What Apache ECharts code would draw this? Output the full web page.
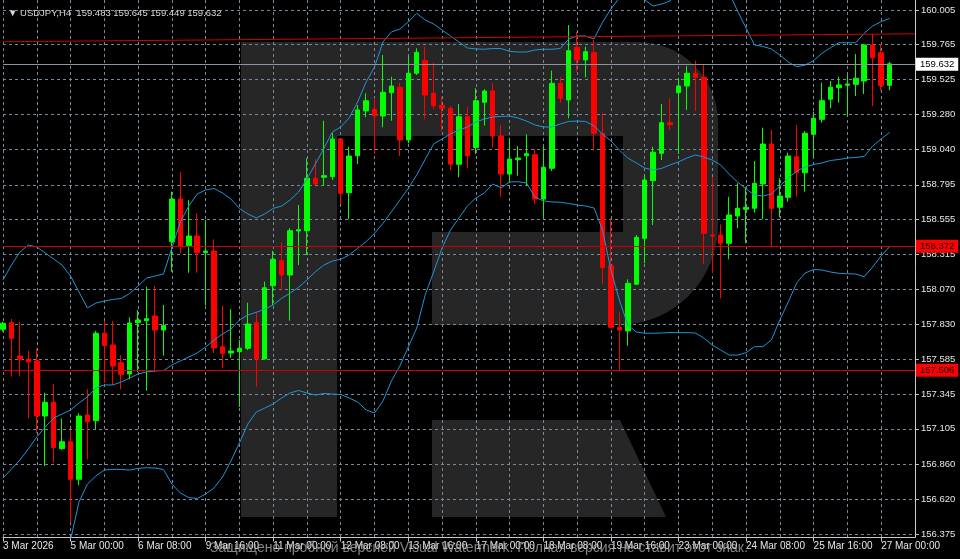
<!DOCTYPE html>
<html>
<head>
<meta charset="utf-8">
<script src="https://cdn.jsdelivr.net/npm/echarts@6/dist/echarts.min.js"></script>
<style>
html,body{margin:0;padding:0;background:#000;}
#c{width:960px;height:559px;}
</style>
</head>
<body>
<div id="c"></div>
<script>
// ---- data (USDJPY, H4) ----
const tradingDays = ['3 Mar','4 Mar','5 Mar','6 Mar','9 Mar','10 Mar','11 Mar','12 Mar','13 Mar',
  '16 Mar','17 Mar','18 Mar','19 Mar','20 Mar','23 Mar','24 Mar','25 Mar','26 Mar','27 Mar'];
const barHours = ['00:00','04:00','08:00','12:00','16:00','20:00'];

const tickLabels = ['3 Mar 2026','5 Mar 00:00','6 Mar 08:00','9 Mar 16:00','11 Mar 00:00','12 Mar 08:00',
  '13 Mar 16:00','17 Mar 00:00','18 Mar 08:00','19 Mar 16:00','23 Mar 00:00','24 Mar 08:00','25 Mar 16:00','27 Mar 00:00'];

const priceTicks = [156.375,156.620,156.860,157.105,157.345,157.585,157.830,158.070,158.315,
  158.555,158.795,159.040,159.280,159.525,159.765,160.005];

const opens = [
157.794,157.840,157.609,157.587,157.575,157.194,157.289,156.968,157.016,156.756,
157.201,157.162,157.767,157.686,157.563,157.485,157.840,157.854,157.886,157.789,
158.401,158.696,158.373,158.440,158.325,158.336,157.674,157.630,157.639,157.663,
157.840,157.589,158.096,158.269,158.170,158.475,158.477,158.840,158.847,158.851,
159.112,158.740,158.996,159.306,159.317,159.271,159.432,159.470,159.105,159.567,
159.654,159.428,159.345,159.324,158.937,159.266,159.052,159.366,159.444,159.133,
158.869,158.968,158.996,159.003,158.696,158.909,159.497,159.382,159.747,159.659,
159.709,159.151,158.235,157.808,157.783,158.106,158.424,158.823,159.013,159.225,
159.432,159.479,159.567,159.539,158.447,158.447,158.390,158.579,158.625,158.632,
158.800,159.077,158.639,158.708,158.989,158.878,159.144,159.248,159.387,159.467,
159.484,159.490,159.513,159.763,159.709,159.483];

const closes = [
157.836,157.732,157.587,157.568,157.194,157.289,156.976,157.016,156.756,157.194,
157.155,157.767,157.681,157.540,157.483,157.838,157.859,157.868,157.789,157.821,
158.696,158.371,158.440,158.325,158.336,157.665,157.628,157.644,157.663,157.831,
157.589,158.082,158.279,158.170,158.477,158.484,158.840,158.800,158.858,159.112,
158.736,158.994,159.313,159.377,159.271,159.435,159.479,159.105,159.567,159.712,
159.416,159.342,159.324,158.937,159.266,158.994,159.377,159.444,159.133,158.869,
158.973,158.980,159.010,158.696,158.916,159.497,159.394,159.723,159.659,159.716,
159.151,158.221,157.808,157.789,158.113,158.431,158.828,159.020,159.225,159.211,
159.479,159.567,159.539,158.459,158.440,158.390,158.586,158.632,158.639,158.805,
159.077,158.632,158.717,158.994,158.878,159.151,159.255,159.377,159.470,159.486,
159.493,159.532,159.763,159.675,159.483,159.632];

const lows = [
157.778,157.466,157.468,157.178,157.074,156.848,156.871,156.959,156.455,156.716,
156.894,157.104,157.423,157.409,157.379,157.448,157.499,157.369,157.499,157.612,
158.193,158.320,158.186,158.186,157.959,157.630,157.524,157.596,157.256,157.651,
157.397,157.585,157.963,158.062,157.854,158.239,158.309,158.797,158.786,158.828,
158.662,158.556,158.939,159.262,159.008,159.193,159.238,158.994,159.082,159.555,
159.248,159.317,159.167,158.897,158.847,158.909,159.008,159.204,159.052,158.712,
158.809,158.858,158.786,158.662,158.563,158.890,159.363,159.255,159.578,159.539,
159.031,158.108,157.801,157.506,157.681,158.104,158.251,158.516,158.966,159.174,
159.008,159.313,159.306,158.246,158.184,158.009,158.279,158.494,158.390,158.602,
158.556,158.372,158.570,158.678,158.712,158.747,158.989,159.225,159.324,159.363,
159.271,159.409,159.423,159.340,159.446,159.449];

const highs = [
157.847,157.866,157.845,157.646,157.661,157.355,157.416,157.177,157.097,157.213,
157.379,157.783,157.852,157.852,157.616,157.877,157.928,158.089,158.094,157.963,
158.747,158.883,158.689,158.599,158.551,158.417,157.956,157.935,157.720,157.978,
157.916,158.124,158.338,158.397,158.494,158.655,158.978,158.971,159.238,159.155,
159.115,159.058,159.347,159.428,159.394,159.693,159.543,159.502,159.686,159.740,
159.751,159.640,159.405,159.340,159.354,159.335,159.463,159.456,159.497,159.209,
159.117,159.063,159.144,159.040,159.063,159.585,159.543,159.901,159.855,159.751,
159.797,159.294,158.563,157.916,158.140,158.447,158.867,159.058,159.354,159.394,
159.534,159.617,159.655,159.631,158.847,158.520,158.712,158.805,158.777,158.959,
159.190,159.174,158.840,159.017,159.209,159.167,159.301,159.502,159.513,159.543,
159.555,159.700,159.767,159.839,159.769,159.645];

const upperBand = [
158.136,158.239,158.329,158.378,158.364,158.323,158.281,158.239,158.163,158.053,
157.942,157.976,157.990,158.001,158.008,158.042,158.094,158.149,158.163,158.177,
158.357,158.537,158.648,158.731,158.759,158.769,158.738,158.696,158.631,158.593,
158.565,158.593,158.631,158.648,158.689,158.745,158.835,158.939,159.046,159.160,
159.195,159.257,159.368,159.506,159.610,159.783,159.853,159.873,159.922,159.981,
159.936,159.908,159.866,159.825,159.783,159.742,159.735,159.733,159.738,159.738,
159.718,159.714,159.714,159.728,159.733,159.733,159.738,159.804,159.825,159.825,
159.804,159.920,160.012,160.090,160.130,160.120,160.074,160.033,160.046,160.067,
160.130,160.190,160.230,160.247,160.247,160.212,160.122,159.998,159.880,159.763,
159.752,159.735,159.693,159.645,159.612,159.624,159.654,159.705,159.744,159.778,
159.778,159.778,159.844,159.894,159.924,159.947];

const midBand = [
156.765,156.827,156.889,156.966,157.049,157.118,157.180,157.208,157.236,157.284,
157.326,157.388,157.409,157.409,157.429,157.457,157.485,157.499,157.506,157.508,
157.547,157.575,157.603,157.630,157.672,157.720,157.762,157.796,157.859,157.893,
157.912,157.933,157.963,158.009,158.044,158.085,158.136,158.193,158.239,158.267,
158.279,158.309,158.355,158.401,158.459,158.528,158.608,158.689,158.770,158.863,
158.971,159.077,159.112,159.146,159.174,159.195,159.229,159.250,159.264,159.268,
159.271,159.257,159.236,159.209,159.195,159.195,159.216,159.233,159.236,159.233,
159.202,159.146,159.098,159.036,158.980,158.946,158.911,158.897,158.908,158.932,
158.953,158.980,159.001,158.987,158.966,158.932,158.869,158.814,158.766,158.724,
158.717,158.731,158.786,158.842,158.890,158.918,158.935,158.946,158.963,158.970,
158.980,158.984,158.991,159.063,159.112,159.157];

const lowerBand = [
null,null,null,null,null,null,null,null,156.336,156.599,
156.723,156.779,156.820,156.825,156.824,156.820,156.831,156.836,156.834,156.824,
156.723,156.661,156.630,156.623,156.654,156.696,156.772,156.883,157.007,157.139,
157.222,157.249,157.277,157.319,157.353,157.371,157.353,157.339,157.350,157.346,
157.343,157.319,157.291,157.236,157.215,157.298,157.436,157.540,157.672,157.803,
158.032,158.191,158.357,158.482,158.565,158.648,158.703,158.738,158.800,158.773,
158.814,158.816,158.807,158.710,158.683,158.676,158.674,158.665,158.655,158.648,
158.634,158.482,158.205,157.997,157.824,157.776,157.767,157.767,157.769,157.772,
157.771,157.771,157.769,157.734,157.686,157.651,157.616,157.616,157.632,157.674,
157.674,157.720,157.859,157.983,158.115,158.184,158.208,158.205,158.191,158.182,
158.179,158.177,158.158,158.226,158.302,158.366];

const resistanceLevel = 158.372;
const supportLevel = 157.506;
const bidPrice = 159.632;
const trendStart = 159.785;
const trendEnd = 159.840;

// ---- categories: H4 bars from 3 Mar 16:00, plus 3 empty future slots (chart shift) ----
const allSlots = [];
tradingDays.forEach(d => barHours.forEach(h => allSlots.push(d + ' ' + h)));
const categories = allSlots.slice(4, 4 + 109);

const candleData = opens.map((o, i) => [o, closes[i], lows[i], highs[i]]);

const FG = '#e6e6e6';
const AXIS = '#c8c8c8';
const GRID = '#778899';
const LOGO = '#262626';
const FONT = '"Liberation Sans", Arial, sans-serif';

function levelLabel(val, bg, fg) {
  return {
    show: true, position: 'end', distance: 1,
    formatter: () => val.toFixed(3),
    backgroundColor: bg, color: fg, fontSize: 9.5, fontFamily: FONT,
    padding: [2, 4, 1, 4]
  };
}

const chart = echarts.init(document.getElementById('c'), null, {renderer: 'canvas'});
chart.setOption({
  animation: false,
  backgroundColor: '#000000',
  title: {
    text: '▼ USDJPY,H4  159.483 159.645 159.449 159.632',
    left: 3, top: 3,
    textStyle: {color: '#d8d8d8', fontSize: 9.5, fontWeight: 'normal', fontFamily: FONT}
  },
  grid: {left: -0.5, right: 45.1, top: 0, bottom: 21.5, containLabel: false},
  xAxis: {
    type: 'category',
    data: categories,
    boundaryGap: false,
    axisLine: {show: true, lineStyle: {color: AXIS, width: 1}},
    axisTick: {show: true, interval: (i) => i % 8 === 0, length: 4, lineStyle: {color: AXIS}},
    axisLabel: {
      interval: (i) => i % 8 === 0,
      formatter: (v, i) => tickLabels[i / 8] || '',
      align: 'left', color: FG, fontSize: 10, fontFamily: FONT, margin: 4
    },
    splitLine: {show: true, interval: (i) => i % 4 === 0, lineStyle: {color: GRID, type: [3, 3], width: 1}}
  },
  yAxis: {
    type: 'value',
    position: 'right',
    min: 156.353, max: 160.074,
    axisLine: {show: true, lineStyle: {color: AXIS, width: 1}},
    axisTick: {show: true, customValues: priceTicks, length: 4, lineStyle: {color: AXIS}},
    axisLabel: {
      customValues: priceTicks,
      formatter: (v) => v.toFixed(3),
      color: FG, fontSize: 9.5, fontFamily: FONT, margin: 6
    },
    splitLine: {show: true, lineStyle: {color: GRID, type: [3, 3], width: 1}}
  },
  graphic: [
    {type: 'rect', z: -10, silent: true, shape: {x: 241, y: 42, width: 96, height: 475}, style: {fill: LOGO}},
    {type: 'rect', z: -10, silent: true, shape: {x: 337, y: 42, width: 381, height: 283, r: [0, 80, 100, 0]}, style: {fill: LOGO}},
    {type: 'rect', z: -9, silent: true, shape: {x: 337, y: 136, width: 286, height: 96}, style: {fill: '#000'}},
    {type: 'rect', z: -9, silent: true, shape: {x: 337, y: 232, width: 95, height: 93}, style: {fill: '#000'}},
    {type: 'polygon', z: -10, silent: true, shape: {points: [[432, 420], [620, 420], [666, 517], [432, 517]]}, style: {fill: LOGO}},
    {type: 'text', z: 100, silent: true, left: 210, top: 541,
      style: {text: 'Защищено пробной версией Visual Watermark. Полная версия не ставит этот знак.',
        fill: 'rgba(175,175,175,0.75)', font: '14px "Liberation Sans", Arial, sans-serif'}}
  ],
  series: [
    {
      type: 'candlestick',
      name: 'USDJPY',
      data: candleData,
      barWidth: 5,
      z: 2,
      itemStyle: {color: '#00ff00', color0: '#ff0000', borderColor: '#00ff00', borderColor0: '#ff0000', borderWidth: 1},
      markLine: {
        silent: true, animation: false, symbol: ['none', 'none'],
        data: [
          {yAxis: resistanceLevel, lineStyle: {color: '#d40000', type: 'solid', width: 1}, label: levelLabel(resistanceLevel, '#ff0000', '#000')},
          {yAxis: supportLevel, lineStyle: {color: '#d40000', type: 'solid', width: 1}, label: levelLabel(supportLevel, '#ff0000', '#000')},
          {yAxis: bidPrice, lineStyle: {color: '#8c959e', type: 'solid', width: 1}, label: levelLabel(bidPrice, '#ffffff', '#000')},
          [
            {coord: [categories[0], trendStart], lineStyle: {color: '#d40000', type: 'solid', width: 1}, label: {show: false}},
            {coord: [categories[108], trendEnd]}
          ]
        ]
      }
    },
    {type: 'line', name: 'Upper', data: upperBand, symbol: 'none', z: 3, lineStyle: {color: '#1e96d4', width: 1}},
    {type: 'line', name: 'Middle', data: midBand, symbol: 'none', z: 3, lineStyle: {color: '#1e96d4', width: 1}},
    {type: 'line', name: 'Lower', data: lowerBand, symbol: 'none', z: 3, lineStyle: {color: '#1e96d4', width: 1}}
  ]
});
</script>
</body>
</html>
